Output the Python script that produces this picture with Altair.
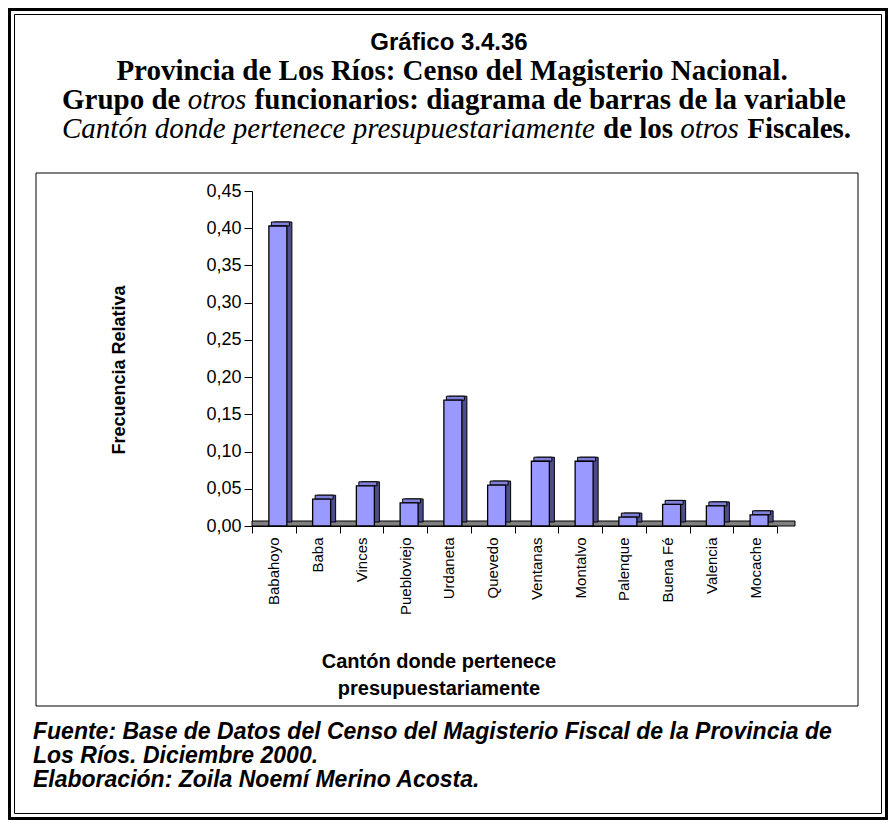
import altair as alt
import pandas as pd

# ---------------- data ----------------
cantones = ["Babahoyo", "Baba", "Vinces", "Puebloviejo", "Urdaneta", "Quevedo",
            "Ventanas", "Montalvo", "Palenque", "Buena Fé", "Valencia", "Mocache"]
frecuencia = [0.403, 0.036, 0.054, 0.031, 0.169, 0.055,
              0.087, 0.087, 0.012, 0.029, 0.027, 0.015]
y_ticks = [0.0, 0.05, 0.10, 0.15, 0.20, 0.25, 0.30, 0.35, 0.40, 0.45]

titulo = "Gráfico 3.4.36"
linea2 = "Provincia de Los Ríos: Censo del Magisterio Nacional."
fuente1 = "Fuente: Base de Datos del Censo del Magisterio Fiscal de la Provincia de"
fuente2 = "Los Ríos. Diciembre 2000."
fuente3 = "Elaboración: Zoila Noemí Merino Acosta."
y_title = "Frecuencia Relativa"
x_title = ["Cantón donde pertenece", "presupuestariamente"]

df = pd.DataFrame({"canton": cantones, "frec": frecuencia})
one = pd.DataFrame({"k": [0]})

# ---------------- layout ----------------
W, H = 525, 335
OX, OY = 252, 191          # page position of plot origin
PAD_L, PAD_T = OX - 8, OY - 8
TOT_W, TOT_H = 880, 812


def px(x):
    return x - OX


def py(y):
    return y - OY


SANS = "Liberation Sans"
SERIF = "Liberation Serif"


def txt(s, x, y, font, size, weight="normal", style="normal", align="left",
        angle=0, baseline="alphabetic"):
    return alt.Chart(one).mark_text(
        text=s, font=font, fontSize=size, fontWeight=weight, fontStyle=style,
        align=align, baseline=baseline, angle=angle, color="black"
    ).encode(x=alt.value(px(x)), y=alt.value(py(y)))


def box(x1, y1, x2, y2, sw):
    return alt.Chart(one).mark_rect(
        fill="transparent", stroke="black", strokeWidth=sw
    ).encode(x=alt.value(px(x1)), x2=alt.value(px(x2)),
             y=alt.value(py(y1)), y2=alt.value(py(y2)))


xenc = alt.X("canton:N", sort=cantones,
             scale=alt.Scale(paddingInner=0, paddingOuter=0),
             axis=alt.Axis(title=None, labelAngle=270, labelFont=SANS,
                           labelFontSize=15, labelColor="black", labelPadding=4,
                           tickSize=7, tickColor="black", tickBand="extent",
                           domainColor="black", grid=False))
yenc = alt.Y("frec:Q", scale=alt.Scale(domain=[0, 0.45], nice=False),
             axis=alt.Axis(title=None, values=y_ticks,
                           labelExpr="replace(format(datum.value, '.2f'), '.', ',')",
                           labelFont=SANS, labelFontSize=18, labelColor="black",
                           labelPadding=3, tickSize=8, tickColor="black",
                           domainColor="black", grid=False))

floor = alt.Chart(one).mark_rect(fill="#808080", stroke="black", strokeWidth=1).encode(
    x=alt.value(0), x2=alt.value(543), y=alt.value(H - 5), y2=alt.value(H))

base = alt.Chart(df)
side = base.mark_bar(size=18, xOffset=9, yOffset=-4, y2Offset=-4,
                     fill="#4d4d8c", stroke="black", strokeWidth=1).encode(
    x=xenc, y=yenc, y2=alt.datum(0))
top = base.mark_bar(size=18, xOffset=6.5, yOffset=-4, y2Offset=0,
                    fill="#8080d8", stroke="black", strokeWidth=1).encode(
    x=xenc, y=yenc, y2="frec:Q")
front = base.mark_bar(size=18, xOffset=4, fill="#9999ff", stroke="black",
                      strokeWidth=1.3).encode(x=xenc, y=yenc, y2=alt.datum(0))

layers = [
    box(9.5, 9.5, 886.5, 818.5, 3),
    box(14.5, 14.5, 881.5, 813.5, 1),
    box(36, 173, 858, 706, 1),
    txt(titulo, 449, 50, SANS, 24, weight="bold", align="center"),
    txt(linea2, 452, 80, SERIF, 29, weight="bold", align="center"),
    txt("Grupo de", 62, 109, SERIF, 29, weight="bold"),
    txt("otros", 187.7, 109, SERIF, 29, style="italic"),
    txt("funcionarios: diagrama de  barras de la variable", 254.6, 109, SERIF, 29, weight="bold"),
    txt("Cantón donde pertenece presupuestariamente", 62, 138, SERIF, 29, style="italic"),
    txt("de los", 603, 138, SERIF, 29, weight="bold"),
    txt("otros", 680.3, 138, SERIF, 29, style="italic"),
    txt("Fiscales.", 747.2, 138, SERIF, 29, weight="bold"),
    txt(y_title, 120, 370, SANS, 18, weight="bold", align="center", angle=270, baseline="middle"),
    txt(x_title[0], 439, 668, SANS, 20, weight="bold", align="center"),
    txt(x_title[1], 439, 695, SANS, 20, weight="bold", align="center"),
    txt(fuente1, 33, 739, SANS, 23, weight="bold", style="italic"),
    txt(fuente2, 33, 763, SANS, 23, weight="bold", style="italic"),
    txt(fuente3, 33, 787, SANS, 23, weight="bold", style="italic"),
    floor, side, top, front,
]

chart = alt.layer(*layers).properties(
    width=W, height=H,
    autosize=alt.AutoSizeParams(type="none"),
    padding={"left": PAD_L, "top": PAD_T, "right": TOT_W - PAD_L - W,
             "bottom": TOT_H - PAD_T - H},
    background="white",
).configure_view(stroke=None)

chart.save("out.html", embed_options={"renderer": "svg", "actions": False})
